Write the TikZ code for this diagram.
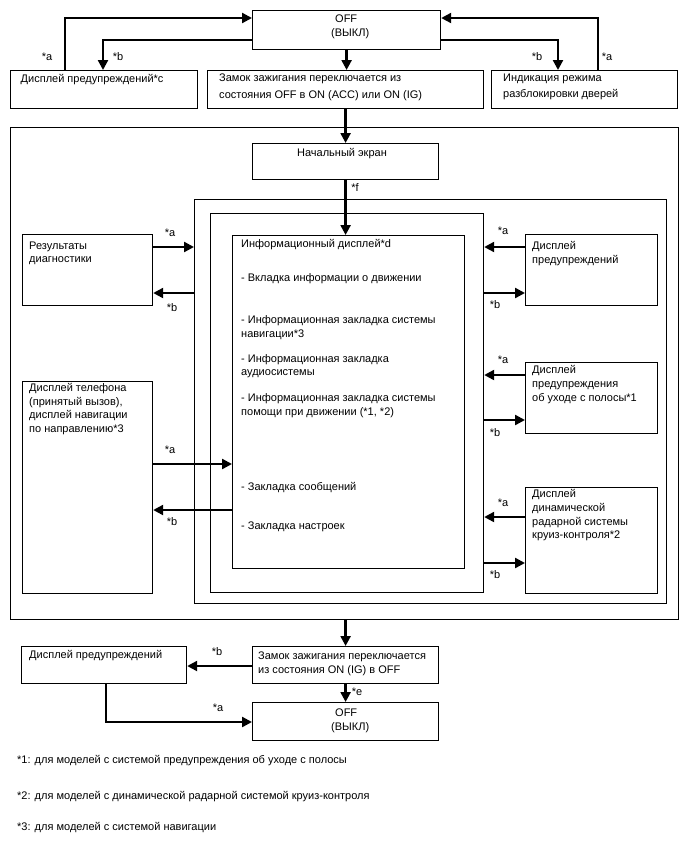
\documentclass[tikz,border=0pt]{standalone}
\usepackage{fontspec}
\setmainfont{Liberation Sans}
\usetikzlibrary{arrows.meta}
\newcommand\mkbox[5]{\node[box, minimum width=#4pt-#2pt, minimum height=#5pt-#3pt] (#1) at (#2,#3) {};}
\begin{document}
\begin{tikzpicture}[x=1pt,y=-1pt,
  box/.style={draw, line width=1.2pt, inner sep=0pt, anchor=north west},
  txt/.style={anchor=north west, inner sep=0pt, align=left, font=\fontsize{11}{13.7}\selectfont},
  ctxt/.style={anchor=north, inner sep=0pt, align=center, font=\fontsize{11}{13.7}\selectfont},
  arr/.style={line width=2.3pt, -{Triangle[length=10pt,width=10pt]}},
  lbl/.style={inner sep=0pt, font=\fontsize{11}{12.5}\selectfont}]
\useasboundingbox (0,0) rectangle (688,852);
% frames
\mkbox{outer}{10}{127}{678}{619}
\mkbox{frameB}{194}{199}{666}{603}
\mkbox{frameC}{210}{213}{483}{592}
% boxes
\mkbox{offA}{252}{10}{440}{49}
\mkbox{warnC}{10}{70}{197}{108}
\mkbox{ignA}{207}{70}{483}{108}
\mkbox{door}{491}{70}{677}{108}
\mkbox{start}{252}{143}{438}{179}
\mkbox{info}{232}{235}{464}{568}
\mkbox{res}{22}{234}{152}{305}
\mkbox{warnR}{525}{234}{657}{305}
\mkbox{phone}{22}{381}{152}{593}
\mkbox{lane}{525}{362}{657}{433}
\mkbox{acc}{525}{487}{657}{593}
\mkbox{warnB}{21}{646}{186}{683}
\mkbox{ignB}{252}{646}{438}{683}
\mkbox{offB}{252}{702}{438}{740}
% texts
\node[txt] (t-offA) at (331,15) {\hspace*{4pt}OFF\\(ВЫКЛ)};
\node[txt] (t-warnC) at (20.5,74) {Дисплей предупреждений*c};
\node[txt] (t-ignA) at (219,74) {Замок зажигания переключается из\\[2.5pt]состояния OFF в ON (ACC) или ON (IG)};
\node[txt] (t-door) at (503,74) {Индикация режима\\[2.5pt]разблокировки дверей};
\node[ctxt] (t-start) at (342,148) {Начальный экран};
\node[txt] (t-i1) at (241,239.5) {Информационный дисплей*d};
\node[txt] (t-i2) at (241,273.5) {- Вкладка информации о движении};
\node[txt] (t-i3) at (241,315.5) {- Информационная закладка системы\\навигации*3};
\node[txt] (t-i4) at (241,354) {- Информационная закладка\\аудиосистемы};
\node[txt] (t-i5) at (241,393.5) {- Информационная закладка системы\\помощи при движении (*1, *2)};
\node[txt] (t-i6) at (241,482.5) {- Закладка сообщений};
\node[txt] (t-i7) at (241,521.5) {- Закладка настроек};
\node[txt] (t-res) at (29,241.5) {Результаты\\диагностики};
\node[txt] (t-warnR) at (532,241.5) {Дисплей\\предупреждений};
\node[txt] (t-phone) at (29,383) {Дисплей телефона\\(принятый вызов),\\дисплей навигации\\по направлению*3};
\node[txt] (t-lane) at (532,365.5) {Дисплей\\предупреждения\\об уходе с полосы*1};
\node[txt] (t-acc) at (532,489.5) {Дисплей\\динамической\\радарной системы\\круиз-контроля*2};
\node[txt] (t-warnB) at (29,650) {Дисплей предупреждений};
\node[txt] (t-ignB) at (258,651.5) {Замок зажигания переключается\\из состояния ON (IG) в OFF};
\node[txt] (t-offB) at (331,708.5) {\hspace*{4pt}OFF\\(ВЫКЛ)};
\node[txt] (f1) at (17,755) {*1: для моделей с системой предупреждения об уходе с полосы};
\node[txt] (f2) at (17,791) {*2: для моделей с динамической радарной системой круиз-контроля};
\node[txt] (f3) at (17,822) {*3: для моделей с системой навигации};
% top connectors
\draw[arr] (warnC.north -| 65,0) |- (offA.west |- 0,18);
\draw[arr] (offA.west |- 0,40) -| (warnC.north -| 103,0);
\draw[arr] (door.north -| 598,0) |- (offA.east |- 0,18);
\draw[arr] (offA.east |- 0,40) -| (door.north -| 558,0);
\draw[arr] (offA.south) -- (offA.south |- ignA.north);
\draw[arr] (ignA.south -| start.north) -- (start.north);
\draw[arr] (start.south) -- (start.south |- info.north);
\node[lbl] (la1) at (47,57) {*a};
\node[lbl] (lb1) at (118,57) {*b};
\node[lbl] (lb2) at (537,57) {*b};
\node[lbl] (la2) at (607,57) {*a};
\node[lbl] (lf) at (355,188) {*f};
% left side
\draw[arr] (res.east |- 0,247) -- (frameB.west |- 0,247);
\draw[arr] (frameB.west |- 0,293) -- (res.east |- 0,293);
\node[lbl] (la3) at (170,233) {*a};
\node[lbl] (lb3) at (172,308) {*b};
\draw[arr] (phone.east |- 0,464) -- (info.west |- 0,464);
\draw[arr] (info.west |- 0,510) -- (phone.east |- 0,510);
\node[lbl] (la4) at (170,450) {*a};
\node[lbl] (lb4) at (172,522) {*b};
% right side
\draw[arr] (warnR.west |- 0,247) -- (frameC.east |- 0,247);
\draw[arr] (frameC.east |- 0,293) -- (warnR.west |- 0,293);
\node[lbl] (la5) at (503,231) {*a};
\node[lbl] (lb5) at (495,305) {*b};
\draw[arr] (lane.west |- 0,375) -- (frameC.east |- 0,375);
\draw[arr] (frameC.east |- 0,420) -- (lane.west |- 0,420);
\node[lbl] (la6) at (503,360) {*a};
\node[lbl] (lb6) at (495,433) {*b};
\draw[arr] (acc.west |- 0,517) -- (frameC.east |- 0,517);
\draw[arr] (frameC.east |- 0,563) -- (acc.west |- 0,563);
\node[lbl] (la7) at (503,503) {*a};
\node[lbl] (lb7) at (495,575) {*b};
% bottom
\draw[arr] (outer.south -| ignB.north) -- (ignB.north);
\draw[arr] (ignB.west |- 0,666) -- (warnB.east |- 0,666);
\draw[arr] (ignB.south) -- (offB.north);
\draw[arr] (warnB.south -| 106,0) |- (offB.west |- 0,722);
\node[lbl] (lb8) at (217,652) {*b};
\node[lbl] (la8) at (218,708) {*a};
\node[lbl] (le) at (357,692) {*e};
\end{tikzpicture}
\end{document}
